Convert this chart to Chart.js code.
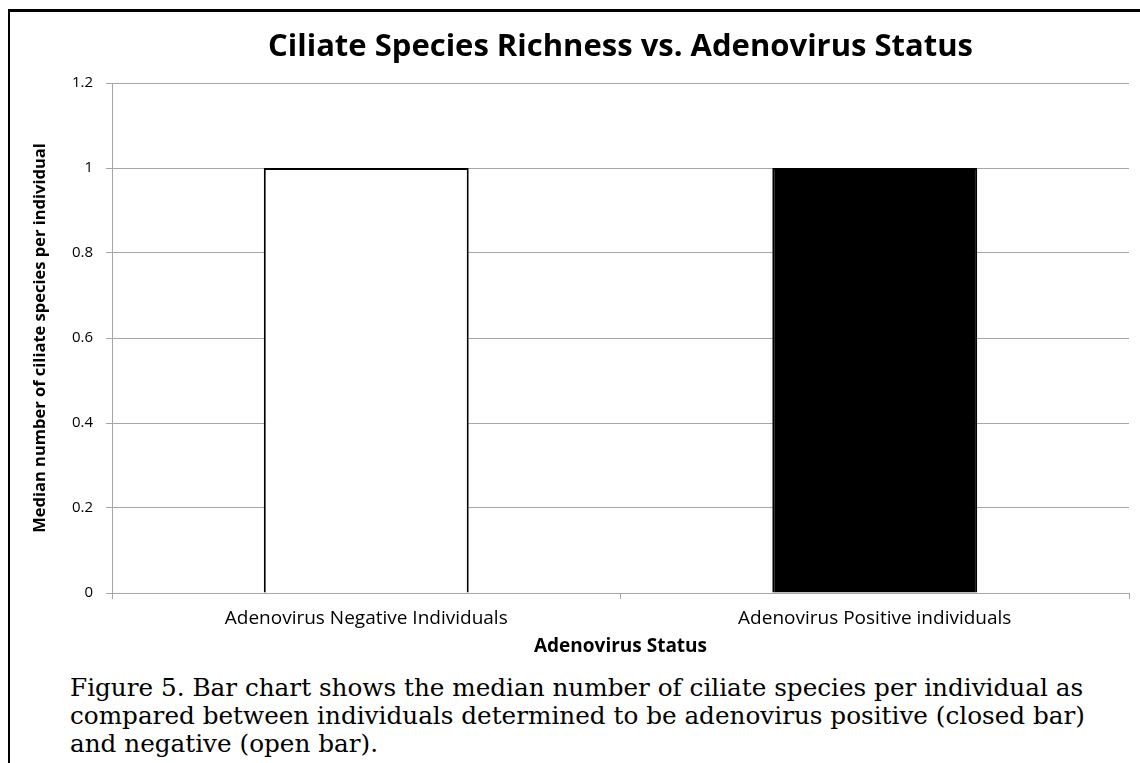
<!DOCTYPE html>
<html>
<head>
<meta charset="utf-8">
<script src="https://cdn.jsdelivr.net/npm/chart.js@4/dist/chart.umd.min.js"></script>
<style>
  body { margin: 0; background: #fff; width: 1140px; height: 763px; overflow: hidden; position: relative; }
  .frame { position: absolute; left: 8px; top: 9px; width: 1200px; height: 800px; border-left: 2px solid #000; border-top: 3px solid #000; }
  .chart-box { position: absolute; left: 0; top: 0; width: 1140px; height: 670px; }
  .caption { position: absolute; left: 70px; top: 674px; font-family: "DejaVu Serif", serif; font-size: 24.7px; line-height: 28px; color: #000; white-space: nowrap; }
</style>
</head>
<body>
<div class="frame"></div>
<div class="chart-box"><canvas id="chart1" width="1140" height="670"></canvas></div>
<div class="caption">Figure 5. Bar chart shows the median number of ciliate species per individual as<br>compared between individuals determined to be adenovirus positive (closed bar)<br>and negative (open bar).</div>
<script>
// chart data
const categories = ['Adenovirus Negative Individuals', 'Adenovirus Positive individuals'];
const medianSpecies = [1, 1];
const barColors = ['#ffffff', '#000000'];
const yTicks = [0, 0.2, 0.4, 0.6, 0.8, 1, 1.2];

const gridGray = '#a6a6a6';
const labelFont = '"Open Sans", "DejaVu Sans", sans-serif';

const ctx = document.getElementById('chart1').getContext('2d');

const chart = new Chart(ctx, {
  type: 'bar',
  data: {
    labels: categories,
    datasets: [{
      data: medianSpecies,
      backgroundColor: barColors,
      borderColor: '#000',
      borderWidth: 2,
      categoryPercentage: 1,
      barPercentage: 0.403,
    }],
  },
  options: {
    responsive: false,
    animation: false,
    layout: { padding: { top: 28.4, left: 20, right: 11, bottom: 0 } },
    scales: {
      x: {
        grid: { display: true, drawOnChartArea: false, offset: true, color: gridGray, tickLength: 6 },
        border: { color: gridGray, width: 1 },
        ticks: { color: '#000', font: { family: labelFont, size: 19 }, padding: 8 },
        title: { display: true, text: 'Adenovirus Status', color: '#000', font: { family: labelFont, size: 19, weight: 'bold' }, padding: { top: 0, bottom: 12 } },
        afterFit: (scale) => { scale.height = 77; },
      },
      y: {
        min: 0,
        max: 1.2,
        afterBuildTicks: (scale) => { scale.ticks = yTicks.map(v => ({ value: v })); },
        grid: { color: gridGray, tickLength: 6 },
        border: { color: gridGray, width: 1 },
        ticks: {
          color: '#000',
          font: { family: labelFont, size: 15 },
          padding: 13,
          callback: (v) => String(v),
        },
        title: { display: true, text: 'Median number of ciliate species per individual', color: '#000', font: { family: labelFont, size: 16.5, weight: 'bold' }, padding: { top: 10, bottom: 0 } },
        afterFit: (scale) => { scale.width = 92; },
      },
    },
    plugins: {
      legend: { display: false },
      tooltip: { enabled: false },
      title: {
        display: true,
        fullSize: false, // centre over the plot area
        text: 'Ciliate Species Richness vs. Adenovirus Status',
        color: '#000',
        font: { family: labelFont, size: 31, weight: 'bold' },
        padding: { top: 0, bottom: 17.4 },
      },
    },
  },
});
</script>
</body>
</html>
